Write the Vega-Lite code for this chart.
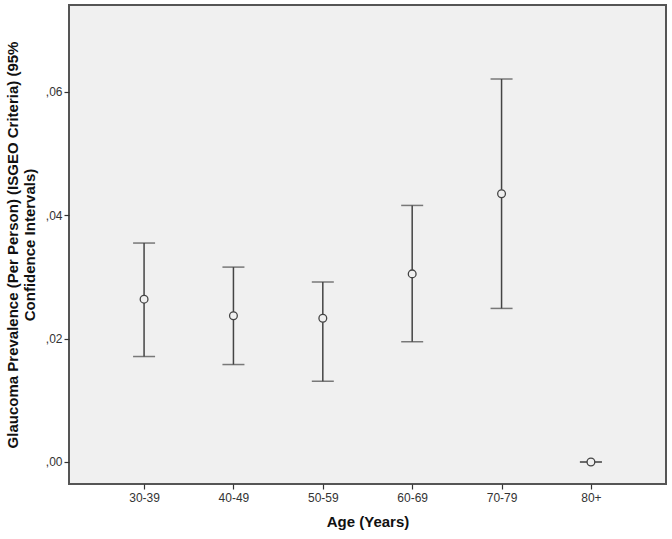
{
  "$schema": "https://vega.github.io/schema/vega-lite/v6.json",
  "width": 597,
  "height": 479,
  "autosize": {"type": "none"},
  "padding": {"left": 69, "top": 5, "right": 6, "bottom": 55},
  "background": "#ffffff",
  "config": {
    "view": {"fill": "#f0f0f0", "stroke": "#555555", "strokeWidth": 2},
    "font": "Liberation Sans",
    "axis": {
      "grid": false,
      "domain": false,
      "tickColor": "#333333",
      "tickSize": 5,
      "tickWidth": 1.2,
      "labelColor": "#333333",
      "labelFontSize": 12,
      "labelFont": "Liberation Sans",
      "titleFont": "Liberation Sans",
      "titleFontSize": 15,
      "titleFontWeight": "bold",
      "titleColor": "#111111"
    }
  },
  "data": {
    "values": [
      {"age": "30-39", "mean": 0.0264, "lower": 0.0171, "upper": 0.0355},
      {"age": "40-49", "mean": 0.0237, "lower": 0.0158, "upper": 0.0316},
      {"age": "50-59", "mean": 0.0233, "lower": 0.0131, "upper": 0.0292},
      {"age": "60-69", "mean": 0.0305, "lower": 0.0195, "upper": 0.0416},
      {"age": "70-79", "mean": 0.0435, "lower": 0.0249, "upper": 0.0621},
      {"age": "80+", "mean": 0.0, "lower": 0.0, "upper": 0.0}
    ]
  },
  "encoding": {
    "x": {
      "field": "age",
      "type": "ordinal",
      "sort": null,
      "scale": {"type": "point", "padding": 0.84},
      "axis": {"title": "Age (Years)", "labelAngle": 0, "labelPadding": 3, "titlePadding": 11}
    }
  },
  "layer": [
    {
      "mark": {"type": "rule", "color": "#444444", "strokeWidth": 1.5},
      "encoding": {
        "y": {
          "field": "lower",
          "type": "quantitative",
          "scale": {"domain": [-0.00357, 0.0741], "nice": false, "zero": false},
          "axis": {
            "title": ["Glaucoma Prevalence (Per Person) (ISGEO Criteria) (95%", "Confidence Intervals)"],
            "values": [0, 0.02, 0.04, 0.06],
            "labelExpr": "replace(format(datum.value, '.2f'), '0.', ',')",
            "labelPadding": 2,
            "titlePadding": 8,
            "titleLineHeight": 17
          }
        },
        "y2": {"field": "upper"}
      }
    },
    {
      "mark": {"type": "tick", "color": "#444444", "size": 22, "thickness": 1.5, "orient": "horizontal"},
      "encoding": {"y": {"field": "lower", "type": "quantitative"}}
    },
    {
      "mark": {"type": "tick", "color": "#444444", "size": 22, "thickness": 1.5, "orient": "horizontal"},
      "encoding": {"y": {"field": "upper", "type": "quantitative"}}
    },
    {
      "mark": {"type": "point", "shape": "circle", "filled": false, "size": 60, "stroke": "#444444", "strokeWidth": 1.3, "fill": "#f0f0f0", "fillOpacity": 1},
      "encoding": {"y": {"field": "mean", "type": "quantitative"}}
    }
  ]
}
